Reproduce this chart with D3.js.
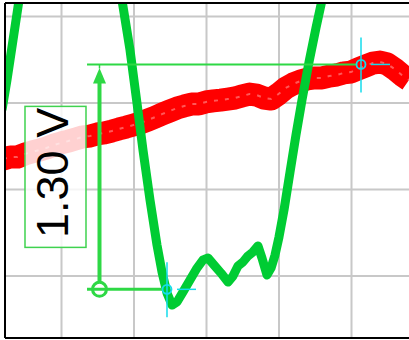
<!DOCTYPE html>
<html><head><meta charset="utf-8">
<script src="https://cdn.jsdelivr.net/npm/d3@7/dist/d3.min.js"></script>
<style>html,body{margin:0;padding:0;background:#fff;}svg{display:block;}</style>
</head><body>
<script>
// ---- data (time in divisions, volts) ----
const timeTicks = [1, 2, 3, 4, 5];
const voltTicks = [0.5, 1.0, 1.5, 2.0];

// red (noisy) trace
const redT = [0.2,0.3,0.4,0.5,0.6,0.7,0.8,0.9,1.0,1.1,1.2,1.3,1.4,1.5,1.6,1.7,1.8,1.9,2.0,2.1,2.2,2.3,2.4,2.5,2.6,2.7,2.8,2.9,3.0,3.1,3.2,3.3,3.4,3.5,3.6,3.7,3.8,3.9,4.0,4.1,4.2,4.3,4.4,4.5,4.6,4.7,4.8,4.9,5.0,5.1,5.2,5.3,5.4,5.5,5.6,5.7,5.8];
const redV = [1.173,1.185,1.185,1.202,1.214,1.225,1.237,1.254,1.266,1.277,1.289,1.301,1.306,1.318,1.324,1.335,1.347,1.358,1.370,1.382,1.399,1.416,1.434,1.451,1.468,1.480,1.491,1.491,1.503,1.509,1.514,1.520,1.526,1.538,1.549,1.543,1.526,1.520,1.549,1.584,1.607,1.624,1.636,1.642,1.642,1.653,1.659,1.671,1.676,1.694,1.711,1.728,1.734,1.723,1.694,1.659,1.630];

// green trace, first (left) piece
const greenAT = [0.186,0.255,0.338,0.421,0.462];
const greenAV = [1.457,1.630,1.861,2.092,2.208];
// green trace, main piece
const greenBT = [1.814,1.841,1.952,2.048,2.131,2.228,2.324,2.393,2.462,2.531,2.600,2.683,2.779,2.876,2.959,3.028,3.110,3.207,3.303,3.372,3.441,3.510,3.579,3.648,3.717,3.772,3.841,3.897,3.952,4.007,4.076,4.159,4.241,4.324,4.421,4.517,4.600,4.655];
const greenBV = [2.208,2.092,1.803,1.497,1.225,0.936,0.676,0.520,0.399,0.329,0.347,0.405,0.474,0.543,0.590,0.601,0.561,0.514,0.462,0.497,0.555,0.578,0.613,0.636,0.671,0.601,0.503,0.543,0.618,0.723,0.879,1.098,1.312,1.514,1.734,1.931,2.092,2.208];

// measurement cursors
const levelTop = 1.72, levelBottom = 0.42;
const cursorTopT = 5.138, cursorBottomT = 2.462;
const arrowT = 1.531, lineStartT = 1.359;
const unit = " V";

// ---- drawing ----
const W = 409, H = 340;
const pLeft = 5, pTop = 3, pBottom = 338;
const svg = d3.select("body").append("svg").attr("width", W).attr("height", H);

const x = d3.scaleLinear().domain([1, 5]).range([61, 351]);
const y = d3.scaleLinear().domain([0.5, 2.0]).range([275.5, 16]);

svg.append("defs").append("clipPath").attr("id", "plot")
  .append("rect").attr("x", pLeft + 1).attr("y", pTop + 1).attr("width", W - pLeft).attr("height", pBottom - pTop - 2);

// grid via axes
const gx = svg.append("g").attr("transform", `translate(0,${pBottom})`)
  .call(d3.axisBottom(x).tickValues(timeTicks).tickSize(-(pBottom - pTop)).tickFormat(""));
const gy = svg.append("g").attr("transform", `translate(${pLeft},0)`)
  .call(d3.axisLeft(y).tickValues(voltTicks).tickSize(-(W - pLeft)).tickFormat(""));
[gx, gy].forEach(g => {
  g.select(".domain").remove();
  g.selectAll(".tick line").attr("stroke", "#c8c8c8").attr("stroke-width", 2);
});

const plot = svg.append("g").attr("clip-path", "url(#plot)");
const line = d3.line().x(d => x(d[0])).y(d => y(d[1]));

const red = redT.map((t, i) => [t, redV[i]]);
plot.append("path").datum(red).attr("d", line)
  .attr("fill", "none").attr("stroke", "#ff0000").attr("stroke-width", 23)
  .attr("stroke-linejoin", "round");
plot.append("path").datum(red).attr("d", line)
  .attr("fill", "none").attr("stroke", "#ffa0a0").attr("stroke-width", 2)
  .attr("stroke-dasharray", "4 7").attr("opacity", 0.55);

const gA = greenAT.map((t, i) => [t, greenAV[i]]);
const gB = greenBT.map((t, i) => [t, greenBV[i]]);
[gA, gB].forEach(d => plot.append("path").datum(d).attr("d", line)
  .attr("fill", "none").attr("stroke", "#00cc33").attr("stroke-width", 9)
  .attr("stroke-linejoin", "round"));

// measurement annotation
const mg = "#2ed845";
const yT = y(levelTop), yB = y(levelBottom);
const ax = x(arrowT), x0 = x(lineStartT);
const cTop = x(cursorTopT), cBot = x(cursorBottomT);

// label box
const boxW = 61, boxH = 141;
const boxRight = ax - 13.5, boxCy = (yT + yB) / 2;
svg.append("rect").attr("x", boxRight - boxW).attr("y", boxCy - boxH / 2)
  .attr("width", boxW).attr("height", boxH)
  .attr("fill", "#ffffff").attr("fill-opacity", 0.82)
  .attr("stroke", "#3fd24f").attr("stroke-width", 1.5);
svg.append("text")
  .attr("transform", `translate(${boxRight - 18},${boxCy - 4}) rotate(-90)`)
  .attr("text-anchor", "middle")
  .attr("font-family", "Liberation Sans, Arial, sans-serif")
  .attr("font-size", 45).attr("fill", "#000")
  .text(d3.format(".2f")(levelTop - levelBottom) + unit);

// level lines
svg.append("line").attr("x1", x0).attr("x2", cTop - 5).attr("y1", yT).attr("y2", yT)
  .attr("stroke", mg).attr("stroke-width", 2);
svg.append("line").attr("x1", x0).attr("x2", cBot - 5).attr("y1", yB).attr("y2", yB)
  .attr("stroke", mg).attr("stroke-width", 3);
// arrow
svg.append("line").attr("x1", ax).attr("x2", ax).attr("y1", yB - 7).attr("y2", yT + 17)
  .attr("stroke", mg).attr("stroke-width", 4);
svg.append("line").attr("x1", ax).attr("x2", ax).attr("y1", yT).attr("y2", yT + 4)
  .attr("stroke", mg).attr("stroke-width", 1.5);
svg.append("path")
  .attr("d", `M${ax},${yT + 3.5}L${ax + 6.5},${yT + 19}L${ax - 6.5},${yT + 19}Z`)
  .attr("fill", mg);
svg.append("circle").attr("cx", ax).attr("cy", yB).attr("r", 7)
  .attr("fill", "none").attr("stroke", mg).attr("stroke-width", 3);

// cyan cursors
const cyan = "#14dcec";
[[cTop, yT], [cBot, yB]].forEach(([cx, cyy]) => {
  svg.append("line").attr("x1", cx).attr("x2", cx).attr("y1", cyy - 27).attr("y2", cyy + 28)
    .attr("stroke", cyan).attr("stroke-width", 1.5);
  svg.append("line").attr("x1", cx + 10).attr("x2", cx + 29).attr("y1", cyy).attr("y2", cyy)
    .attr("stroke", cyan).attr("stroke-width", 1.5);
  svg.append("circle").attr("cx", cx).attr("cy", cyy).attr("r", 4.5)
    .attr("fill", "none").attr("stroke", cyan).attr("stroke-width", 1.8);
});

// frame
svg.append("line").attr("x1", pLeft).attr("x2", W).attr("y1", pTop).attr("y2", pTop).attr("stroke", "#000").attr("stroke-width", 2);
svg.append("line").attr("x1", pLeft).attr("x2", W).attr("y1", pBottom).attr("y2", pBottom).attr("stroke", "#000").attr("stroke-width", 2);
svg.append("line").attr("x1", pLeft).attr("x2", pLeft).attr("y1", pTop).attr("y2", pBottom).attr("stroke", "#000").attr("stroke-width", 2);
</script>
</body></html>
